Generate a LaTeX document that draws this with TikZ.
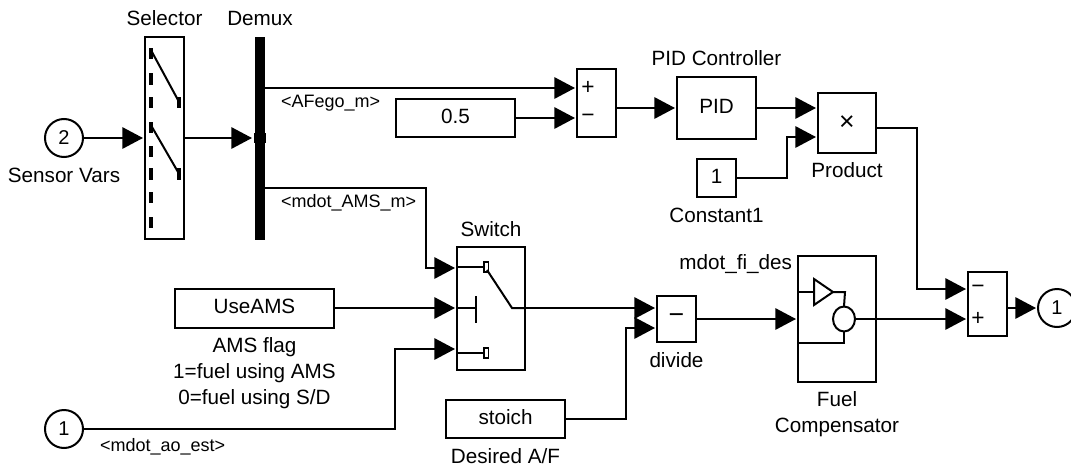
\documentclass[tikz,border=0pt]{standalone}
\usepackage{fontspec}
\setmainfont{Liberation Sans}
\usetikzlibrary{positioning,arrows.meta,shapes.geometric}

\begin{document}
\begin{tikzpicture}[x=0.75pt,y=-0.75pt,
        line width=1.5pt,
        block/.style={draw,outer sep=0pt,inner sep=0pt,text depth=2.5pt,font=\fontsize{15.5}{18}\selectfont},
        port/.style={draw,circle,outer sep=0pt,inner sep=0pt,minimum size=28.5pt,font=\fontsize{15}{18}\selectfont},
        bar/.style={fill=black,outer sep=0pt,inner sep=0pt},
        caption/.style={inner sep=0pt,text height=11pt,text depth=3pt,font=\fontsize{15.5}{18}\selectfont},
        stacked/.style={inner sep=0pt,align=center,font=\fontsize{15.5}{19.2}\selectfont},
        signal/.style={inner sep=0pt,font=\fontsize{13.5}{16}\selectfont},
        sign/.style={inner sep=0pt,font=\fontsize{17}{18}\selectfont},
        conn/.style={-{Triangle[length=15.5pt,width=16pt]},shorten >=1.5pt}]

    \useasboundingbox (0,0) rectangle (1071,468);

    \node [port] (in2) at (64,138) {2};
    \node [port] (in1) at (64,429) {1};
    \node [port] (out1) at (1057,308) {1};

    \node [block,minimum width=29.25pt,minimum height=151.5pt] (sel) at (164.5,138) {};
    \node [bar,minimum width=7.5pt,minimum height=152pt] (dmx) at (260,138.5) {};
    \node [bar,minimum width=9pt,minimum height=7.5pt] (dmxin) at (260,138) {};
    \node [block,minimum width=29.25pt,minimum height=51pt] (sumA) at (596.5,103) {};
    \node [block,minimum width=89.25pt,minimum height=28.5pt] (half) at (455.5,118) {0.5};
    \node [block,minimum width=59.25pt,minimum height=46.5pt] (pid) at (716.5,108) {PID};
    \node [block,text depth=0pt,minimum width=43.5pt,minimum height=45pt] (prod) at (847,123) {\fontsize{20}{20}\selectfont ×};
    \node [block,minimum width=29.25pt,minimum height=28.5pt] (cst) at (716.5,178) {1};
    \node [block,minimum width=51pt,minimum height=92.25pt] (sw) at (491,308.5) {};
    \node [block,minimum width=119.25pt,minimum height=29.25pt] (flag) at (254.5,308) {UseAMS};
    \node [block,minimum width=89.25pt,minimum height=28.5pt] (stoich) at (505.5,419) {stoich};
    \node [block,text depth=0pt,minimum width=29.25pt,minimum height=34.5pt] (dvd) at (676.5,319) {\fontsize{20}{20}\selectfont −};
    \node [block,minimum width=58.5pt,minimum height=94.5pt] (fuel) at (837,319) {};
    \node [block,minimum width=29.25pt,minimum height=48pt] (sumB) at (987.5,304) {};

    \node [caption,below=7pt of in2] (in2cap) {Sensor Vars};
    \node [caption,above=5pt of sel] (selcap) {Selector};
    \node [caption,above=5pt of dmx] (dmxcap) {Demux};
    \node [caption,above=5pt of pid] (pidcap) {PID Controller};
    \node [caption,below=6.5pt of prod] (prodcap) {Product};
    \node [caption,below=7.5pt of cst] (cstcap) {Constant1};
    \node [caption,above=4.5pt of sw] (swcap) {Switch};
    \node [caption,below=7.5pt of dvd] (dvdcap) {divide};
    \node [caption,below=7pt of stoich] (stoichcap) {Desired A/F};
    \node [stacked,below=7pt of flag] (flagcap) {AMS flag\\1=fuel using AMS\\0=fuel using S/D};
    \node [stacked,below=6.5pt of fuel] (fuelcap) {Fuel\\Compensator};
    \node [caption,anchor=east] (fuelname) at (793,264) {mdot\_fi\_des};

    \node [signal,anchor=west] (afego) at (280,103) {<AFego\_m>};
    \node [signal,anchor=west] (mdotams) at (280,203) {<mdot\_AMS\_m>};
    \node [signal,anchor=west] (mdotao) at (99,447) {<mdot\_ao\_est>};

    \node [sign] (sumAplus) at (588,88) {+};
    \node [sign] (sumAminus) at (588,118) {−};
    \node [sign] (sumBminus) at (978,289) {−};
    \node [sign] (sumBplus) at (978,319) {+};

    \coordinate (sumAa) at (577,88);
    \coordinate (sumAb) at (577,118);
    \coordinate (prodb) at (818,137);
    \coordinate (swa) at (457,268);
    \coordinate (swc) at (457,349);
    \coordinate (dvda) at (657,308);
    \coordinate (dvdb) at (657,328);
    \coordinate (sumBa) at (968,289);
    \coordinate (sumBb) at (968,319);
    \coordinate (dmxa) at (265,88);
    \coordinate (dmxb) at (265,188);

    \draw [conn] (in2) -- (sel.west |- in2);
    \draw [conn] (sel.east |- dmxin) -- (dmxin.west);
    \draw [conn] (dmxa) -- (sumAa);
    \draw [conn] (half) -- (sumAb);
    \draw [conn] (dmxb) -| (426,268) -- (swa);
    \draw [conn] (flag) -- (sw.west |- flag);
    \draw [conn] (in1) -- (395,429) |- (swc);
    \draw [conn] (sw.east |- dvda) -- (dvda);
    \draw [conn] (stoich) -| (626,328) -- (dvdb);
    \draw [conn] (sumA.east |- pid) -- (pid);
    \draw [conn] (pid) -- (prod.west |- pid);
    \draw [conn] (cst) -| (787,137) -- (prodb);
    \draw [conn] (prod.east |- 0,128) -| (917,289) -- (sumBa);
    \draw [conn] (dvd.east |- fuel) -- (fuel);
    \draw [conn] (fuel.east |- sumBb) -- (sumBb);
    \draw [conn] (sumB.east |- out1) -- (out1);

    \foreach \y/\h in {48/11,73/12,97/11,122/11,146/11,168/12,192/11,217/11}
        \fill (149,\y) rectangle ++(4,\h);
    \fill (176.5,97) rectangle ++(4,11);
    \fill (176.5,168) rectangle ++(4,12);
    \draw (152,52) -- (178,100);
    \draw (152,127) -- (178,172);

    \draw (457,267) -- (483,267);
    \draw (457,353) -- (483,353);
    \draw (457,308) -- (476,308);
    \draw (476,296) -- (476,323);
    \draw [line width=1pt] (484,262) rectangle (488.5,272);
    \draw [line width=1pt] (484,348) rectangle (488.5,358);
    \draw (487,270) -- (512,308) -- (525,308);

    \node [draw,ellipse,outer sep=0pt,inner sep=0pt,minimum width=16.5pt,minimum height=18.75pt] (sumfuel) at (844,319) {};
    \draw (814,279) -- (814,305) -- (833,292) -- cycle;
    \draw (798,292) -- (814,292);
    \draw (833,292) -- (845,292) -- (sumfuel.north);
    \draw (sumfuel.south) -- (844,343) -- (798,343);
    \draw (sumfuel.east) -- (876,319);

\end{tikzpicture}
\end{document}
